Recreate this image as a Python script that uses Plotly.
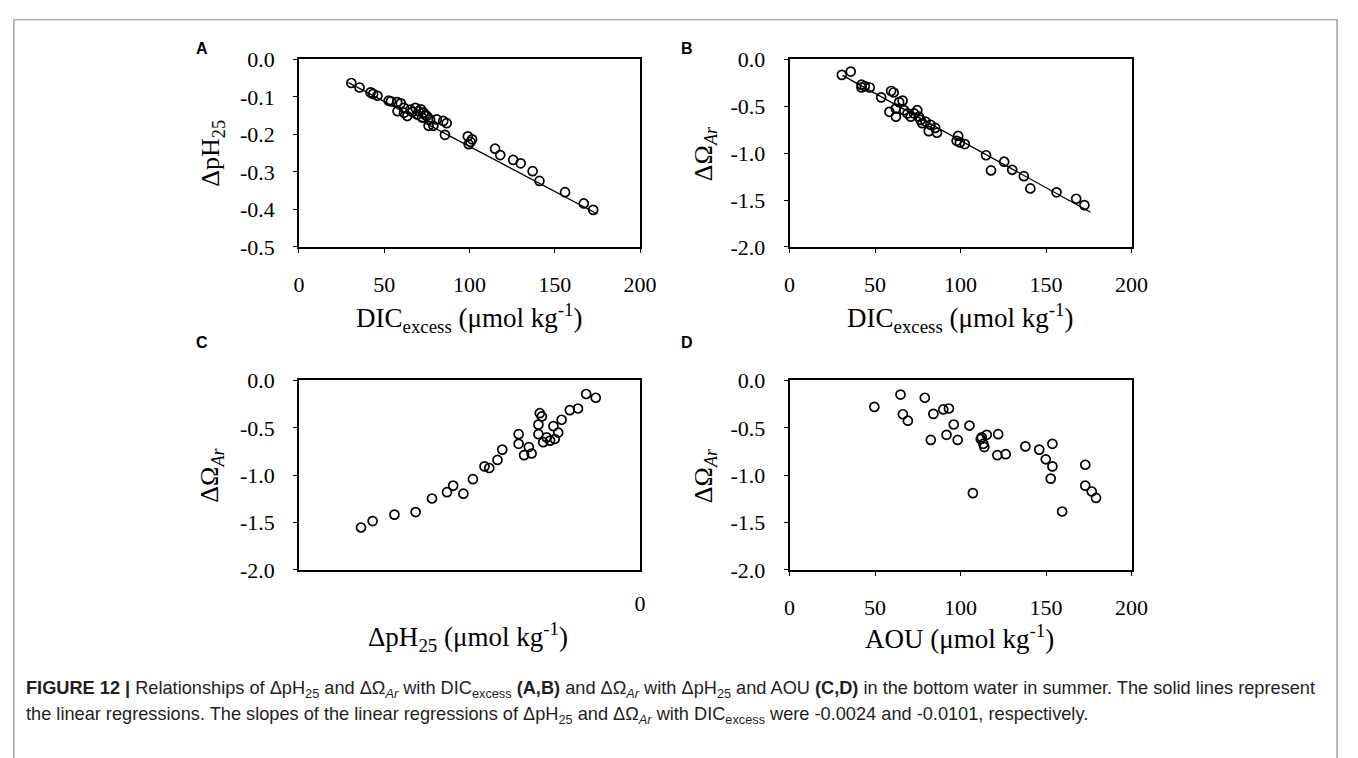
import plotly.graph_objects as go

W, H = 1358, 758

# ---------------- data ----------------
# Panel A: dpH25 vs DIC_excess
a_dic = [30.7, 35.5, 42, 43.5, 46, 52.6, 53.9, 57.6, 59.7, 61.6, 57.8, 61.6, 65.4, 68.3, 70.2,
         73.1, 75, 76.9, 80.8, 84.6, 76, 78.8, 86.6, 85.6, 63.5, 69.3, 72.2, 66.5, 71.5, 74,
         99, 100.6, 101.5, 99.5, 115, 118, 125.6, 130, 137, 141, 156, 167, 172.5]
a_dph = [-0.063, -0.075, -0.088, -0.092, -0.097, -0.110, -0.112, -0.114, -0.117, -0.129, -0.138,
         -0.142, -0.134, -0.129, -0.138, -0.142, -0.151, -0.160, -0.160, -0.164, -0.177, -0.177,
         -0.170, -0.201, -0.151, -0.147, -0.155, -0.140, -0.133, -0.148,
         -0.205, -0.220, -0.213, -0.226, -0.238, -0.255, -0.268, -0.277, -0.298, -0.324,
         -0.354, -0.384, -0.401]
a_fit_x = [29, 175]
a_fit_y = [-0.062, -0.412]

# Panel B: dOmega_Ar vs DIC_excess
b_dic = [30.6, 35.8, 42.1, 44, 46.9, 42.1, 53.6, 59.4, 60.9, 58.4, 62.2, 62.2, 64.1, 66.1, 67,
         69, 70.9, 72.8, 74.7, 75.6, 77.6, 76.6, 79.5, 82.4, 81.4, 85.2, 86.2,
         98.6, 99.6, 102.5, 97.7, 114.9, 117.8, 125.5, 130.2, 137, 140.8, 156.1, 167.6, 172.4]
b_dom = [-0.165, -0.13, -0.27, -0.285, -0.30, -0.30, -0.405, -0.337, -0.353, -0.559, -0.61, -0.525,
         -0.456, -0.44, -0.542, -0.576, -0.61, -0.576, -0.542, -0.61, -0.68, -0.645, -0.662,
         -0.697, -0.765, -0.731, -0.782, -0.816, -0.885, -0.903, -0.868, -1.022, -1.184, -1.091,
         -1.177, -1.245, -1.376, -1.417, -1.486, -1.554]
b_fit_x = [31, 176]
b_fit_y = [-0.17, -1.63]

# Panel C: dOmega_Ar vs dpH25
c_dph = [-0.409, -0.392, -0.360, -0.329, -0.305, -0.283, -0.274, -0.259, -0.245, -0.228, -0.221,
         -0.209, -0.202, -0.178, -0.178, -0.170, -0.163, -0.159, -0.149, -0.147, -0.144, -0.149,
         -0.142, -0.137, -0.132, -0.125, -0.127, -0.120, -0.115, -0.103, -0.091, -0.079, -0.065]
c_dom = [-1.552, -1.484, -1.416, -1.389, -1.246, -1.179, -1.11, -1.195, -1.042, -0.907, -0.924,
         -0.839, -0.730, -0.567, -0.669, -0.788, -0.703, -0.771, -0.466, -0.346, -0.38, -0.567,
         -0.652, -0.601, -0.635, -0.618, -0.482, -0.55, -0.415, -0.313, -0.296, -0.143, -0.183]

# Panel D: dOmega_Ar vs AOU
d_aou = [49.6, 64.9, 66.3, 69.2, 79.1, 82.6, 84.1, 89.9, 93.2, 91.8, 96, 98.3, 105.2, 107.2,
         111.8, 113.3, 113.9, 112.4, 115.3, 122, 121.5, 126.4, 137.9, 146, 153.7, 149.8, 153.7,
         152.7, 159.4, 172.9, 172.9, 176.7, 179.2]
d_dom = [-0.279, -0.149, -0.357, -0.425, -0.183, -0.628, -0.353, -0.306, -0.296, -0.574, -0.465,
         -0.628, -0.476, -1.189, -0.618, -0.669, -0.703, -0.601, -0.574, -0.567, -0.788, -0.778,
         -0.696, -0.730, -0.669, -0.832, -0.907, -1.036, -1.383, -0.890, -1.11, -1.172, -1.240]

x_ticks_dic = [0, 50, 100, 150, 200]
x_ticks_dic_text = ["0", "50", "100", "150", "200"]
y_ticks_ph = [0.0, -0.1, -0.2, -0.3, -0.4, -0.5]
y_ticks_ph_text = ["0.0", "-0.1", "-0.2", "-0.3", "-0.4", "-0.5"]
y_ticks_om = [0.0, -0.5, -1.0, -1.5, -2.0]
y_ticks_om_text = ["0.0", "-0.5", "-1.0", "-1.5", "-2.0"]
x_ticks_c = [0]
x_ticks_c_text = ["0"]

# ---------------- styling helpers ----------------
SERIF = "Liberation Serif, Times New Roman, serif"
SANS = "Liberation Sans, Arial, sans-serif"

def px_x(p):
    return p / W

def px_y(p):
    return 1 - p / H

marker = dict(symbol="circle-open", size=9, color="black", line=dict(width=1.7, color="black"))
fitline = dict(color="black", width=1.3)

fig = go.Figure()
fig.add_trace(go.Scatter(x=a_dic, y=a_dph, mode="markers", marker=marker, xaxis="x", yaxis="y"))
fig.add_trace(go.Scatter(x=a_fit_x, y=a_fit_y, mode="lines", line=fitline, xaxis="x", yaxis="y"))
fig.add_trace(go.Scatter(x=b_dic, y=b_dom, mode="markers", marker=marker, xaxis="x2", yaxis="y2"))
fig.add_trace(go.Scatter(x=b_fit_x, y=b_fit_y, mode="lines", line=fitline, xaxis="x2", yaxis="y2"))
fig.add_trace(go.Scatter(x=c_dph, y=c_dom, mode="markers", marker=marker, xaxis="x3", yaxis="y3"))
fig.add_trace(go.Scatter(x=d_aou, y=d_dom, mode="markers", marker=marker, xaxis="x4", yaxis="y4"))

# plot box pixel geometry
L1, R1 = 298, 645
L2, R2 = 797, 1145
T1, B1 = 49, 243
T2, B2 = 381, 577

def xax(dom, rng, tv, tt, anchor):
    return dict(domain=[px_x(dom[0]), px_x(dom[1])], range=rng, tickvals=tv, ticktext=tt,
                anchor=anchor, showline=True, linecolor="black", linewidth=1.6, mirror=True,
                ticks="outside", ticklen=4, tickwidth=1.2, tickcolor="black",
                showgrid=False, zeroline=False, ticklabelstandoff=13,
                tickfont=dict(family=SERIF, size=22, color="black"), fixedrange=True)

def yax(dom, rng, tv, tt, anchor):
    return dict(domain=[px_y(dom[1]), px_y(dom[0])], range=rng, tickvals=tv, ticktext=tt,
                anchor=anchor, showline=True, linecolor="black", linewidth=1.6, mirror=True,
                ticks="outside", ticklen=4, tickwidth=1.2, tickcolor="black",
                showgrid=False, zeroline=False, ticklabelstandoff=14,
                tickfont=dict(family=SERIF, size=22, color="black"), fixedrange=True)

layout = dict(
    width=W, height=H, margin=dict(l=0, r=0, t=0, b=0),
    paper_bgcolor="white", plot_bgcolor="white", showlegend=False,
    xaxis=xax((L1, R1), [0, 200], x_ticks_dic, x_ticks_dic_text, "y"),
    yaxis=yax((T1, B1), [-0.5, 0], y_ticks_ph, y_ticks_ph_text, "x"),
    xaxis2=xax((L2, R2), [0, 200], x_ticks_dic, x_ticks_dic_text, "y2"),
    yaxis2=yax((T1, B1), [-2, 0], y_ticks_om, y_ticks_om_text, "x2"),
    xaxis3=xax((L1, R1), [-0.5, 0], x_ticks_c, x_ticks_c_text, "y3"),
    yaxis3=yax((T2, B2), [-2, 0], y_ticks_om, y_ticks_om_text, "x3"),
    xaxis4=xax((L2, R2), [0, 200], x_ticks_dic, x_ticks_dic_text, "y4"),
    yaxis4=yax((T2, B2), [-2, 0], y_ticks_om, y_ticks_om_text, "x4"),
)
layout["xaxis3"]["ticks"] = ""
fig.update_layout(**layout)

ann = []
def text_at(x, y, t, size, family=SERIF, angle=0, xanchor="center", color="black"):
    ann.append(dict(x=px_x(x), y=px_y(y), xref="paper", yref="paper", text=t, showarrow=False,
                    font=dict(family=family, size=size, color=color), textangle=angle,
                    xanchor=xanchor, yanchor="middle"))

# panel letters
for lx, ly, t in [(199, 38, "A"), (693, 38, "B"), (199, 342, "C"), (693, 342, "D")]:
    text_at(lx, ly, "<b>" + t + "</b>", 16, family=SANS)

# axis titles
dic_title = "DIC<sub>excess</sub> (μmol kg<sup>-1</sup>)"
text_at(471, 316, dic_title, 27)
text_at(971, 316, dic_title, 27)
text_at(470, 646, "ΔpH<sub>25</sub> (μmol kg<sup>-1</sup>)", 27)
text_at(970, 646, "AOU (μmol kg<sup>-1</sup>)", 27)
text_at(210, 146, "ΔpH<sub>25</sub>", 26, angle=-90)
text_at(711, 146, "ΔΩ<sub><i>Ar</i></sub>", 26, angle=-90)
text_at(209, 479, "ΔΩ<sub><i>Ar</i></sub>", 26, angle=-90)
text_at(711, 479, "ΔΩ<sub><i>Ar</i></sub>", 26, angle=-90)

# caption
CAP = "Liberation Sans Narrow, Liberation Sans, Arial, sans-serif"
cap1 = ("<b>FIGURE 12 |</b> Relationships of ΔpH<sub>25</sub> and ΔΩ<sub><i>Ar</i></sub> with "
        "DIC<sub>excess</sub> <b>(A,B)</b> and ΔΩ<sub><i>Ar</i></sub> with ΔpH<sub>25</sub> and AOU "
        "<b>(C,D)</b> in the bottom water in summer. The solid lines represent")
cap2 = ("the linear regressions. The slopes of the linear regressions of ΔpH<sub>25</sub> and "
        "ΔΩ<sub><i>Ar</i></sub> with DIC<sub>excess</sub> were -0.0024 and -0.0101, respectively.")
text_at(18, 701, cap1, 18.2, family=CAP, xanchor="left", color="#231f20")
text_at(18, 727, cap2, 18.2, family=CAP, xanchor="left", color="#231f20")

fig.update_layout(annotations=ann)

# outer frame (bottom edge lies below the visible page)
fig.add_shape(type="rect", xref="paper", yref="paper", x0=px_x(8), x1=px_x(1354),
              y0=px_y(820), y1=px_y(8), line=dict(color="#8a8a8a", width=1.2))

fig.write_html("out.html", config={"displayModeBar": False},
               post_script="document.body.style.margin='0px';document.body.style.padding='0px';"
                           "document.body.style.overflow='hidden';")
